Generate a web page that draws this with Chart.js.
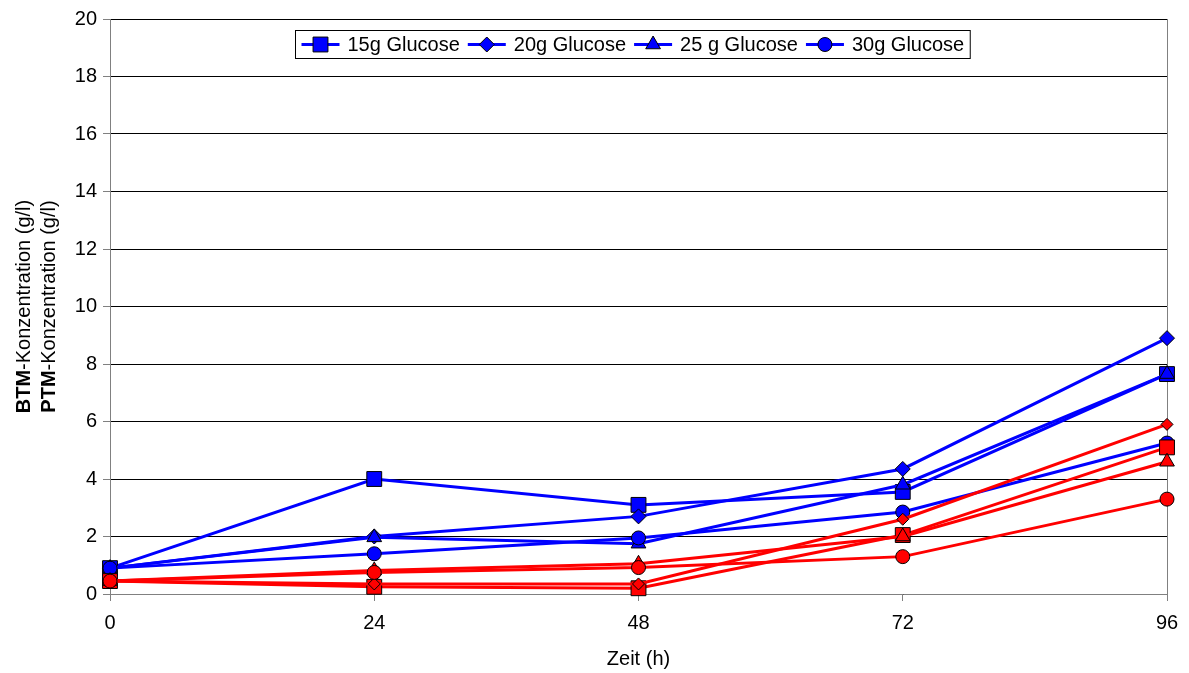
<!DOCTYPE html>
<html>
<head>
<meta charset="utf-8">
<title>BTM- und PTM-Konzentration</title>
<script src="https://cdn.jsdelivr.net/npm/chart.js@4/dist/chart.umd.min.js"></script>
<style>
  html, body { margin: 0; padding: 0; background: #ffffff; }
  #wrap { width: 1189px; height: 673px; }
</style>
</head>
<body>
<div id="wrap"><canvas id="chart" width="1189" height="673"></canvas></div>
<script>
// Sampling times (h) and y-axis tick values
const hours = [0, 24, 48, 72, 96];
const yTicks = [0, 2, 4, 6, 8, 10, 12, 14, 16, 18, 20];
const seriesNames = ['15g Glucose', '20g Glucose', '25 g Glucose', '30g Glucose'];

// BTM concentration (g/l), blue curves
const btm15 = [0.9, 4.0, 3.1, 3.55, 7.65];
const btm20 = [0.9, 2.0, 2.7, 4.35, 8.9];
const btm25 = [0.9, 1.97, 1.75, 3.8, 7.65];
const btm30 = [0.9, 1.4, 1.95, 2.85, 5.25];

// PTM concentration (g/l), red curves
const ptm15 = [0.45, 0.25, 0.2, 2.05, 5.1];
const ptm20 = [0.45, 0.35, 0.35, 2.6, 5.9];
const ptm25 = [0.45, 0.82, 1.05, 2.0, 4.6];
const ptm30 = [0.45, 0.75, 0.92, 1.3, 3.3];

const FONT = '"Liberation Sans", Arial, sans-serif';
const BLUE = '#0000ff';
const RED = '#ff0000';

const markers = [
  { style: 'rect', radius: 10.5 },
  { style: 'rectRot', radius: 7.5 },
  { style: 'triangle', radius: 8.5 },
  { style: 'circle', radius: 7 }
];

function makeSeries(values, idx, color, inLegend, order) {
  const m = markers[idx];
  let radius = m.radius;
  if (!inLegend && m.style === 'rectRot') radius = 6;
  return {
    label: seriesNames[idx],
    data: hours.map((h, i) => ({ x: h, y: values[i] })),
    borderColor: color,
    backgroundColor: color,
    borderWidth: 3,
    pointStyle: m.style,
    pointRadius: radius,
    pointHoverRadius: radius,
    pointBackgroundColor: color,
    pointBorderColor: '#000000',
    pointBorderWidth: 1,
    tension: 0,
    clip: false,
    order: order,
    inLegend: inLegend
  };
}

const datasets = [
  makeSeries(btm15, 0, BLUE, true, 8),
  makeSeries(btm20, 1, BLUE, true, 7),
  makeSeries(btm25, 2, BLUE, true, 6),
  makeSeries(btm30, 3, BLUE, true, 5),
  makeSeries(ptm15, 0, RED, false, 4),
  makeSeries(ptm20, 1, RED, false, 3),
  makeSeries(ptm25, 2, RED, false, 2),
  makeSeries(ptm30, 3, RED, false, 1)
];

// Gray frame on the right side of the plot area
const frameLine = {
  id: 'frameLine',
  beforeDatasetsDraw(chart) {
    const { ctx, chartArea: a } = chart;
    ctx.save();
    ctx.strokeStyle = '#808080';
    ctx.lineWidth = 1;
    ctx.beginPath();
    const x = Math.round(a.right) + 0.5;
    ctx.moveTo(x, a.top);
    ctx.lineTo(x, a.bottom);
    ctx.stroke();
    ctx.restore();
  }
};

// Two-line rotated y-axis title with bold prefixes
const yTitle = {
  id: 'yTitle',
  afterDraw(chart) {
    const { ctx, chartArea: a } = chart;
    const lines = [['BTM', '-Konzentration (g/l)', 24], ['PTM', '-Konzentration (g/l)', 49]];
    const cy = (a.top + a.bottom) / 2;
    ctx.save();
    ctx.fillStyle = '#000000';
    ctx.textBaseline = 'middle';
    ctx.textAlign = 'left';
    lines.forEach(([bold, rest, x]) => {
      ctx.font = 'bold 20px ' + FONT;
      const wb = ctx.measureText(bold).width;
      ctx.font = '20px ' + FONT;
      const wr = ctx.measureText(rest).width;
      const total = wb + wr;
      ctx.save();
      ctx.translate(x, cy);
      ctx.rotate(-Math.PI / 2);
      ctx.font = 'bold 20px ' + FONT;
      ctx.fillText(bold, -total / 2, 0);
      ctx.font = '20px ' + FONT;
      ctx.fillText(rest, -total / 2 + wb, 0);
      ctx.restore();
    });
    ctx.restore();
  }
};

// Boxed legend inside the plot area: line segment with marker, then label
const boxLegend = {
  id: 'boxLegend',
  afterDraw(chart) {
    const { ctx, chartArea: a } = chart;
    const items = chart.data.datasets.filter(d => d.inLegend);
    ctx.save();
    ctx.font = '20px ' + FONT;
    const lineLen = 38, gap = 8, padX = 6;
    const widths = items.map(d => ctx.measureText(d.label).width);
    const total = padX * 2 + items.length * (lineLen + gap) +
      widths.reduce((s, w) => s + w, 0) + (items.length - 1) * gap;
    const cx = (a.left + a.right) / 2 - 6;
    const left = Math.round(cx - total / 2) + 0.5;
    const top = 30.5, h = 28;
    ctx.fillStyle = '#ffffff';
    ctx.fillRect(left, top, total, h);
    ctx.strokeStyle = '#000000';
    ctx.lineWidth = 1;
    ctx.strokeRect(left, top, total, h);
    let x = left + padX;
    const y = top + h / 2;
    items.forEach((d, i) => {
      ctx.strokeStyle = d.borderColor;
      ctx.lineWidth = 3;
      ctx.beginPath();
      ctx.moveTo(x, y);
      ctx.lineTo(x + lineLen, y);
      ctx.stroke();
      ctx.fillStyle = d.pointBackgroundColor;
      ctx.strokeStyle = '#000000';
      ctx.lineWidth = 1;
      Chart.helpers.drawPoint(ctx, {
        pointStyle: d.pointStyle, rotation: 0, radius: d.pointRadius, borderWidth: 1
      }, x + lineLen / 2, y);
      ctx.fillStyle = '#000000';
      ctx.textBaseline = 'middle';
      ctx.textAlign = 'left';
      ctx.fillText(d.label, x + lineLen + gap, y + 1);
      x += lineLen + gap + widths[i] + gap;
    });
    ctx.restore();
  }
};

new Chart(document.getElementById('chart'), {
  type: 'line',
  data: { datasets },
  options: {
    responsive: false,
    animation: false,
    devicePixelRatio: 1,
    layout: { padding: { left: 0, top: 19, right: 22, bottom: 0 } },
    plugins: {
      legend: { display: false },
      tooltip: { enabled: false },
      title: { display: false }
    },
    scales: {
      x: {
        type: 'linear',
        min: 0,
        max: 96,
        afterBuildTicks(scale) { scale.ticks = hours.map(v => ({ value: v })); },
        afterFit(scale) { scale.height = 79; },
        ticks: { color: '#000000', font: { family: FONT, size: 20 }, padding: 10, maxRotation: 0 },
        grid: { drawOnChartArea: false, drawTicks: true, tickLength: 7, color: '#808080' },
        border: { color: '#808080', width: 1 },
        title: {
          display: true, text: 'Zeit (h)', color: '#000000',
          font: { family: FONT, size: 20 }, padding: { top: 0, bottom: 2 }
        }
      },
      y: {
        min: 0,
        max: 20,
        afterBuildTicks(scale) { scale.ticks = yTicks.map(v => ({ value: v })); },
        afterFit(scale) { scale.width = 110; },
        ticks: { color: '#000000', font: { family: FONT, size: 20 }, padding: 6 },
        grid: { color: '#000000', tickColor: '#808080', tickLength: 7, lineWidth: 1 },
        border: { color: '#808080', width: 1 }
      }
    }
  },
  plugins: [frameLine, yTitle, boxLegend]
});
</script>
</body>
</html>
